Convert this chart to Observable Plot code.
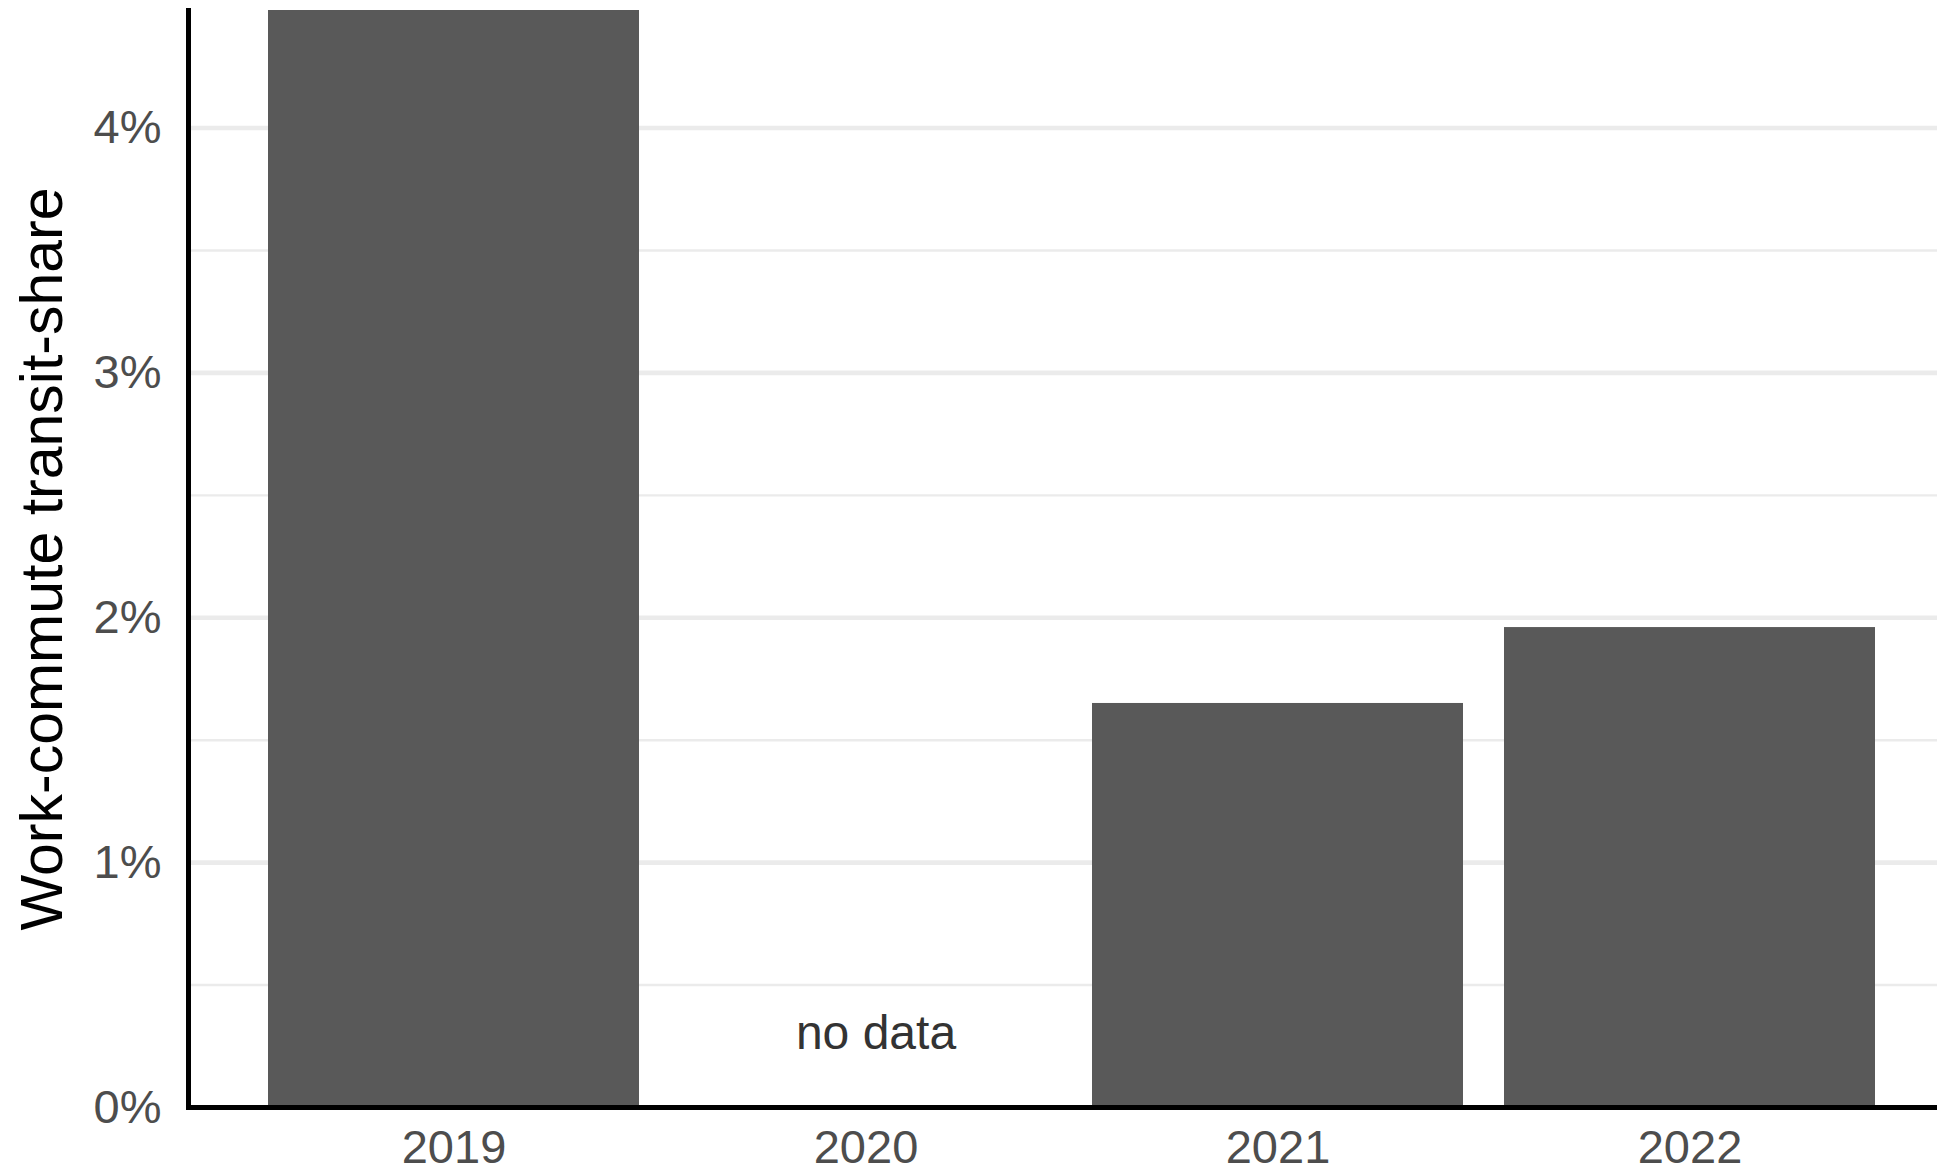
<!DOCTYPE html>
<html><head><meta charset="utf-8">
<script src="https://cdn.jsdelivr.net/npm/d3@7"></script>
<script src="https://cdn.jsdelivr.net/npm/@observablehq/plot@0.6"></script>
<style>html,body{margin:0;padding:0;background:#fff;}</style>
</head><body><div id="chart"></div>
<script>
const years = ["2019", "2020", "2021", "2022"];
const shares = [4.48, null, 1.65, 1.96];
const yTicks = [0, 1, 2, 3, 4];
const yMinorTicks = [0.5, 1.5, 2.5, 3.5];
const yAxisTitle = "Work-commute transit-share";
const noDataYear = "2020";
const noDataLabel = "no data";
const noDataY = 0.3;

const data = years.map((year, i) => ({year, share: shares[i]})).filter(d => d.share != null);

const chart = Plot.plot({
  width: 1937,
  height: 1175,
  marginLeft: 188,
  marginRight: 0,
  marginTop: 10,
  marginBottom: 68,
  style: {fontFamily: "'Liberation Sans', Arial, Helvetica, sans-serif", background: "white"},
  x: {domain: years, paddingInner: 0.1, paddingOuter: 0.05, insetLeft: 59, insetRight: 41},
  y: {domain: [0, d3.max(shares)]},
  marks: [
    Plot.ruleY(yMinorTicks, {stroke: "#ebebeb", strokeWidth: 2.4}),
    Plot.ruleY(yTicks, {stroke: "#ebebeb", strokeWidth: 4.6}),
    Plot.barY(data, {x: "year", y: "share", fill: "#595959"}),
    Plot.text([noDataLabel], {x: () => noDataYear, y: () => noDataY, text: d => d, dx: 10, fontSize: 48, fill: "#333333"}),
    Plot.axisY(yTicks, {tickSize: 0, tickPadding: 27, tickFormat: d => d + "%", fontSize: 47, color: "#4d4d4d", label: null}),
    Plot.axisX({tickSize: 0, tickPadding: 22, fontSize: 47, color: "#4d4d4d", label: null}),
    Plot.text([yAxisTitle], {frameAnchor: "left", textAnchor: "middle", lineAnchor: "middle", rotate: -90, dx: -145, text: d => d, fontSize: 59, fill: "black"}),
    Plot.ruleY([0], {stroke: "black", strokeWidth: 5}),
    Plot.frame({anchor: "left", stroke: "black", strokeWidth: 5})
  ]
});
document.getElementById("chart").appendChild(chart);
</script>
</body></html>
